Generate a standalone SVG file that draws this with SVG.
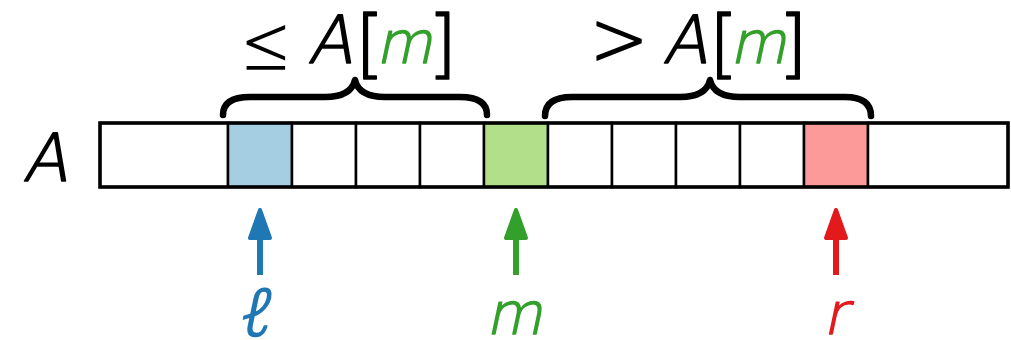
<svg xmlns="http://www.w3.org/2000/svg" width="1011" height="340" viewBox="0 0 1011 340">
<style>
.t{font-family:"DejaVu Sans",sans-serif;font-weight:200;text-anchor:middle;fill:#000;stroke:#000;stroke-width:1.5;stroke-linejoin:round}
.ns{stroke:none}
.le{font-family:"Inter","DejaVu Sans",sans-serif;font-weight:250}
.ell{font-family:"Noto Sans","Lato","Roboto","Open Sans","DejaVu Sans",sans-serif;font-weight:300}
.g{fill:#33a02c;stroke:#33a02c}
.b{fill:#1f78b4;stroke:#1f78b4}
.r{fill:#e31a1c;stroke:#e31a1c}
.cell{fill:#fff;stroke:#000;stroke-width:2.5}
.brace{fill:none;stroke:#000;stroke-width:6.5;stroke-linecap:round;stroke-linejoin:round}
.shaft{stroke-width:6}
</style>
<rect width="1011" height="340" fill="#fff"/>
<g id="label-A"><text class="t" transform="translate(45,181) skewX(-12)" font-size="66">A</text></g>
<g id="array">
<rect id="cell0" class="cell" x="100" y="123" width="128" height="64"/>
<rect id="cell1" class="cell" x="228" y="123" width="64" height="64" style="fill:#a6cee3"/>
<rect id="cell2" class="cell" x="292" y="123" width="64" height="64"/>
<rect id="cell3" class="cell" x="356" y="123" width="64" height="64"/>
<rect id="cell4" class="cell" x="420" y="123" width="64" height="64"/>
<rect id="cell5" class="cell" x="484" y="123" width="64" height="64" style="fill:#b2df8a"/>
<rect id="cell6" class="cell" x="548" y="123" width="64" height="64"/>
<rect id="cell7" class="cell" x="612" y="123" width="64" height="64"/>
<rect id="cell8" class="cell" x="676" y="123" width="64" height="64"/>
<rect id="cell9" class="cell" x="740" y="123" width="64" height="64"/>
<rect id="cell10" class="cell" x="804" y="123" width="64" height="64" style="fill:#fb9a99"/>
<rect id="cell11" class="cell" x="868" y="123" width="140" height="64"/>
<rect x="100" y="123" width="908" height="64" fill="none" stroke="#000" stroke-width="3.5"/>
</g>
<g id="brace-left">
<path class="brace" d="M223,115 Q223,97 250,97 L325,97 Q351,97 355,80 Q359,97 385,97 L460,97 Q487,97 487,115"/>
<text class="t ns le" transform="translate(266,73) scale(1.15,1.1)" font-size="80">≤</text>
<text class="t" transform="translate(330,63) skewX(-12)" font-size="66">A</text>
<text class="t" x="370" y="69" font-size="75">[</text>
<text class="t g" transform="translate(404,63) skewX(-12)" font-size="58">m</text>
<text class="t" x="442.5" y="69" font-size="75">]</text>
</g>
<g id="brace-right">
<path class="brace" d="M545,116 Q545,97 572,97 L680,97 Q706,97 710,80 Q714,97 740,97 L845,97 Q871,97 871,116"/>
<text class="t" transform="translate(619,65) scale(1,1.1)" font-size="70">&gt;</text>
<text class="t" transform="translate(685,63) skewX(-12)" font-size="66">A</text>
<text class="t" x="724" y="69" font-size="75">[</text>
<text class="t g" transform="translate(758,63) skewX(-12)" font-size="58">m</text>
<text class="t" x="793" y="69" font-size="75">]</text>
</g>
<g id="connectors">
<g id="arrow-l" fill="#1f78b4" stroke="#1f78b4">
<line class="shaft" x1="260" y1="275" x2="260" y2="236"/>
<polygon points="260,210 250,238 270,238" stroke-width="4" stroke-linejoin="round"/>
</g>
<g id="arrow-m" fill="#33a02c" stroke="#33a02c">
<line class="shaft" x1="516" y1="275" x2="516" y2="236"/>
<polygon points="516,210 506,238 526,238" stroke-width="4" stroke-linejoin="round"/>
</g>
<g id="arrow-r" fill="#e31a1c" stroke="#e31a1c">
<line class="shaft" x1="836" y1="275" x2="836" y2="236"/>
<polygon points="836,210 826,238 846,238" stroke-width="4" stroke-linejoin="round"/>
</g>
</g>
<g id="label-l"><text class="t b ns ell" transform="translate(253,336) skewX(-12)" font-size="66">ℓ</text></g>
<g id="label-m"><text class="t g" transform="translate(514,334) skewX(-12)" font-size="58">m</text></g>
<g id="label-r"><text class="t r" transform="translate(835,334) skewX(-12)" font-size="58">r</text></g>
</svg>
